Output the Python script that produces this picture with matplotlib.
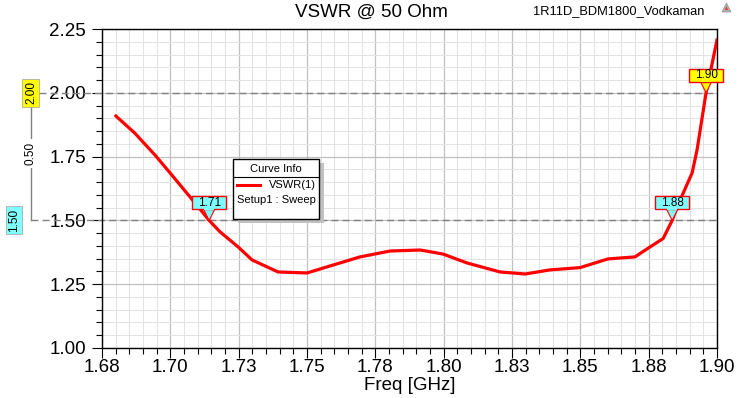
import matplotlib
matplotlib.use("Agg")
import matplotlib.pyplot as plt
import numpy as np
from matplotlib.lines import Line2D
from matplotlib.patches import Rectangle, Polygon
from matplotlib.transforms import IdentityTransform

plt.rcParams['font.family'] = ['Liberation Sans', 'DejaVu Sans']

# ---------------- data ----------------
freq_ghz = [1.6801, 1.6871, 1.6900, 1.6944, 1.6999, 1.7072, 1.7142, 1.7182,
            1.7248, 1.7299, 1.7394, 1.7500, 1.7595, 1.7694, 1.7804, 1.7914,
            1.7998, 1.8086, 1.8206, 1.8298, 1.8389, 1.8499, 1.8601, 1.8700,
            1.8755, 1.8803, 1.8836, 1.8854, 1.8909, 1.8927, 1.8960, 1.9000]
vswr = [1.909, 1.841, 1.807, 1.756, 1.686, 1.592, 1.500, 1.455,
        1.396, 1.345, 1.298, 1.294, 1.325, 1.357, 1.380, 1.384,
        1.368, 1.333, 1.298, 1.290, 1.306, 1.315, 1.349, 1.357,
        1.396, 1.429, 1.500, 1.553, 1.686, 1.776, 2.000, 2.207]
series_name = "VSWR(1)"
series_sub = "Setup1 : Sweep"
title = "VSWR @ 50 Ohm"
project = "1R11D_BDM1800_Vodkaman"
xlabel = "Freq [GHz]"
x_ticks = [1.675, 1.700, 1.725, 1.750, 1.775, 1.800, 1.825, 1.850, 1.875, 1.900]
x_tick_labels = ["1.68", "1.70", "1.73", "1.75", "1.78", "1.80", "1.83", "1.85", "1.88", "1.90"]
y_ticks = [1.00, 1.25, 1.50, 1.75, 2.00, 2.25]
y_tick_labels = ["1.00", "1.25", "1.50", "1.75", "2.00", "2.25"]
marker_freqs = [1.7142, 1.8836, 1.8960]
marker_vals = [1.50, 1.50, 2.00]
marker_labels = ["1.71", "1.88", "1.90"]
marker_colors = ["#80ffff", "#80ffff", "#ffff00"]
hline_vals = [2.00, 1.50]
hline_labels = ["2.00", "1.50"]
delta_label = "0.50"

W, H = 743, 398
fig = plt.figure(figsize=(W / 100, H / 100), dpi=100)
fig.patch.set_facecolor("white")
L, R, T, B = 102, 717, 29, 348
ax = fig.add_axes([L / W, (H - B) / H, (R - L) / W, (B - T) / H])

ax.set_xlim(x_ticks[0], x_ticks[-1])
ax.set_ylim(y_ticks[0], y_ticks[-1])
ax.set_xticks(x_ticks)
ax.set_xticklabels(x_tick_labels)
ax.set_yticks(y_ticks)
ax.set_yticklabels(y_tick_labels)
ax.set_xticks(np.arange(x_ticks[0], x_ticks[-1] + 1e-9, 0.005), minor=True)
ax.set_yticks(np.arange(y_ticks[0], y_ticks[-1] + 1e-9, 0.05), minor=True)
ax.tick_params(which='major', length=7.2, width=0.8, direction='out', labelsize=13.5, color='black')
ax.tick_params(which='minor', length=4.3, width=0.8, direction='out', color='black')
ax.tick_params(axis='y', which='major', pad=4.3)
ax.tick_params(axis='x', which='major', pad=0.8)
ax.set_axisbelow(True)
ax.grid(which='major', color='#c0c0c0', lw=0.9)
ax.grid(which='minor', color='#e3e3e3', lw=0.75)
for s in ax.spines.values():
    s.set_color('black')
    s.set_linewidth(1.0)

ax.plot(freq_ghz, vswr, color='#ff0000', lw=2.3, zorder=3, solid_joinstyle='round')

ax.set_xlabel(xlabel, fontsize=13.5, va='baseline')
ax.xaxis.set_label_coords(0.5, -(390 - B) / (B - T))

def fx(x):
    return x / W

fig.text(fx(371.5), (H - 17) / H, title, fontsize=13.5, ha='center', va='baseline')
fig.text(fx(704), (H - 14.5) / H, project, fontsize=9.3, ha='right', va='baseline')

ident = IdentityTransform()

# small logo
fig.patches.append(Polygon([[722, H - 12], [731, H - 12], [726.5, H - 3]], closed=True,
                           transform=ident, facecolor='#b0b0b0',
                           edgecolor='#909090', lw=0.5))
fig.patches.append(Polygon([[725, H - 10], [728, H - 10], [726.5, H - 6]], closed=True,
                           transform=ident, facecolor='#ff3030', edgecolor='none'))

def disp(xd, yd):
    return ax.transData.transform((xd, yd))

# horizontal marker lines and delta annotation
_, y_hi = disp(x_ticks[0], hline_vals[0])
_, y_lo = disp(x_ticks[0], hline_vals[1])
vx = 30.5
ax.add_line(Line2D([39, R], [y_hi, y_hi], transform=ident, clip_on=False,
                   color='#808080', lw=1.0, ls=(0, (5, 3)), zorder=2))
ax.add_line(Line2D([vx, R], [y_lo, y_lo], transform=ident, clip_on=False,
                   color='#808080', lw=1.0, ls=(0, (5, 3)), zorder=2))
ax.add_line(Line2D([vx, vx], [y_hi - 14, y_lo], transform=ident, clip_on=False,
                   color='#808080', lw=1.0, zorder=2))
# yellow box 2.00
fig.patches.append(Rectangle((22, y_hi - 14), 17, 28, transform=ident,
                             facecolor='#ffff00', edgecolor='#a0a0a0', lw=0.5))
fig.text(fx(31), y_hi / H, hline_labels[0], rotation=90, fontsize=8.5,
         ha='center', va='center')
# cyan box 1.50
fig.patches.append(Rectangle((6, y_lo - 14), 16, 28, transform=ident,
                             facecolor='#80ffff', edgecolor='#a0a0a0', lw=0.5))
fig.text(fx(14.5), y_lo / H, hline_labels[1], rotation=90, fontsize=8.5,
         ha='center', va='center')
# delta label
fig.text(fx(vx + 0.5), ((y_hi + y_lo) / 2 + 3) / H, delta_label, rotation=90, fontsize=8.5,
         ha='center', va='center',
         bbox=dict(facecolor='white', edgecolor='none', pad=2.0))

# marker callouts
bw, bh, gap, tw = 34, 13, 11, 12
for mf, mv, ml, mc in zip(marker_freqs, marker_vals, marker_labels, marker_colors):
    px, py = disp(mf, mv)
    bx0 = px - bw / 2
    by0 = py + gap
    tri = Polygon([[px - tw / 2, by0 + 1], [px + tw / 2, by0 + 1], [px, py]], closed=True,
                  transform=ident, facecolor=mc, edgecolor='#ff0000', lw=0.8,
                  zorder=5, clip_on=False)
    ax.add_patch(tri)
    rect = Rectangle((bx0, by0), bw, bh, transform=ident, facecolor=mc,
                     edgecolor='#ff0000', lw=1.0, zorder=5, clip_on=False)
    ax.add_patch(rect)
    ax.add_patch(Rectangle((px - tw / 2 + 0.8, by0 - 0.5), tw - 1.6, 2.0, transform=ident,
                           facecolor=mc, edgecolor='none', zorder=5.1, clip_on=False))
    ax.text(px, by0 + bh / 2, ml, transform=ident, fontsize=8.5, ha='center',
            va='center', zorder=6, clip_on=False)

# legend ("Curve Info")
lx0, lx1, ly0, ly1 = 233, 319, 159, 219
ax.add_patch(Rectangle((lx0 + 5, H - ly1 - 4), lx1 - lx0, ly1 - ly0, transform=ident,
                       facecolor='#c0c0c0', edgecolor='none', zorder=6, clip_on=False))
ax.add_patch(Rectangle((lx0, H - ly1), lx1 - lx0, ly1 - ly0, transform=ident,
                       facecolor='white', edgecolor='black', lw=1.0, zorder=7, clip_on=False))
ax.add_line(Line2D([lx0, lx1], [H - 177, H - 177], transform=ident, color='black',
                   lw=0.8, zorder=8, clip_on=False))
ax.text((lx0 + lx1) / 2, H - 169, "Curve Info", transform=ident, fontsize=8,
        ha='center', va='center', zorder=8)
ax.add_line(Line2D([237, 260], [H - 185, H - 185], transform=ident, color='#ff0000',
                   lw=2.2, zorder=8, clip_on=False))
ax.text(316, H - 185, series_name, transform=ident, fontsize=8, ha='right',
        va='center', zorder=8)
ax.text(237, H - 200, series_sub, transform=ident, fontsize=8, ha='left',
        va='center', zorder=8)

fig.savefig("out.png", dpi=100, facecolor='white')
